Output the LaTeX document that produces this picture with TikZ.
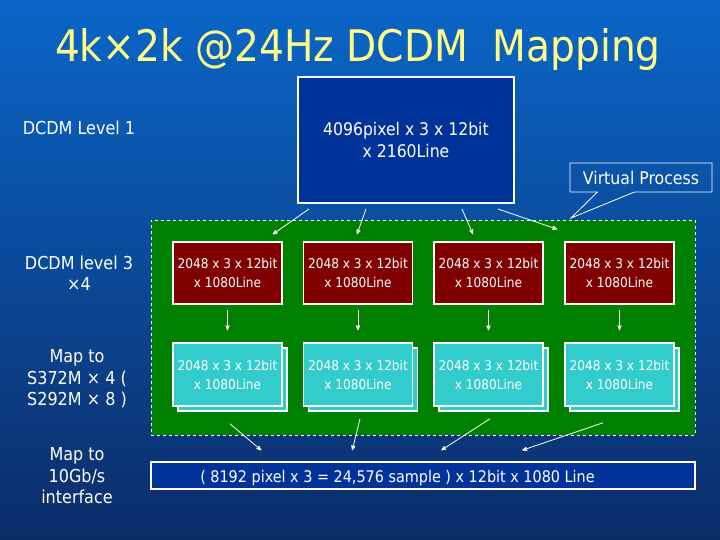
\documentclass[tikz,border=0pt]{standalone}
\usepackage{fontspec}
\setmainfont{DejaVu Sans Condensed}
\usetikzlibrary{arrows,shadows,shapes.callouts}

\definecolor{bgtop}{HTML}{0A66C8}
\definecolor{bgbot}{HTML}{0B2C68}
\definecolor{deepblue}{HTML}{003399}
\definecolor{procgreen}{HTML}{008000}
\definecolor{levelred}{HTML}{800000}
\definecolor{mapcyan}{HTML}{33CCCC}
\definecolor{titleyellow}{HTML}{FFFF88}

\begin{document}
\begin{tikzpicture}[x=1pt,y=-1pt,-,>=stealth',thick,
  side label/.style={text=white,align=center,font=\fontsize{17.8}{21.5}\selectfont},
  level box/.style={draw=white,line width=1.5pt,fill=levelred,text=white,align=center,
    minimum width=109pt,minimum height=62pt,inner sep=0pt,font=\fontsize{13.5}{19}\selectfont},
  map box/.style={draw=white,line width=1.5pt,fill=mapcyan,text=white,align=center,
    minimum width=109pt,minimum height=63pt,inner sep=0pt,font=\fontsize{13.5}{19}\selectfont,
    copy shadow={shadow xshift=5pt,shadow yshift=-5pt}},
  link/.style={every edge/.style={draw=white,line width=0.8pt,->}}]

  % background
  \shade[top color=bgtop,bottom color=bgbot,draw=none] (0,0) rectangle (720,540);

  \node[text=titleyellow,font=\fontsize{43.5}{44}\selectfont] (title) at (358,50) {4k×2k @24Hz DCDM\ \ Mapping};

  \node[side label] (l1) at (79,128) {DCDM Level 1};
  \node[side label] (l3) at (79,273) {DCDM level 3\\×4};
  \node[side label] (lmap) at (77,379) {Map to\\S372M × 4 (\\S292M × 8 )};
  \node[side label] (lif) at (77,476) {Map to\\10Gb/s\\interface};

  \node[draw=white,line width=2pt,fill=deepblue,text=white,align=center,
    minimum width=216pt,minimum height=126pt,inner sep=0pt,
    font=\fontsize{17.4}{22}\selectfont] (top) at (406,140) {4096pixel x 3 x 12bit\\x 2160Line};

  \node[draw=white,dashed,line width=0.8pt,fill=procgreen,minimum width=544pt,
    minimum height=215pt,inner sep=0pt] (virt) at (423,327.5) {};

  \node[rectangle callout,draw=white,line width=0.8pt,text=white,minimum width=142pt,
    minimum height=29pt,inner sep=0pt,callout absolute pointer={(571,218)},
    callout pointer width=37pt,font=\fontsize{17.5}{20}\selectfont] (vp) at (641,177.5) {Virtual Process};

  \node[level box] (r1) at (227.5,273) {2048 x 3 x 12bit\\x 1080Line};
  \node[level box] (r2) at (358,273) {2048 x 3 x 12bit\\x 1080Line};
  \node[level box] (r3) at (488.5,273) {2048 x 3 x 12bit\\x 1080Line};
  \node[level box] (r4) at (619.5,273) {2048 x 3 x 12bit\\x 1080Line};

  \node[map box] (c1) at (227.5,374.5) {2048 x 3 x 12bit\\x 1080Line};
  \node[map box] (c2) at (358,374.5) {2048 x 3 x 12bit\\x 1080Line};
  \node[map box] (c3) at (488.5,374.5) {2048 x 3 x 12bit\\x 1080Line};
  \node[map box] (c4) at (619.5,374.5) {2048 x 3 x 12bit\\x 1080Line};

  \node[draw=white,line width=1.5pt,fill=deepblue,text=white,minimum width=544pt,
    minimum height=27pt,inner sep=0pt,font=\fontsize{16}{20}\selectfont] (bar) at (423,475.5)
    {\raisebox{-6.5pt}[0pt][0pt]{( 8192 pixel x 3 = 24,576 sample ) x 12bit x 1080 Line}\hspace*{51pt}};

  \path[link]
    ([xshift=12pt,yshift=-5pt]top.south west) edge ([xshift=-10pt,yshift=7pt]r1.north east)
    ([xshift=69pt,yshift=-5pt]top.south west) edge ([xshift=-1pt,yshift=7pt]r2.north)
    ([xshift=165pt,yshift=-5pt]top.south west) edge ([xshift=-15.5pt,yshift=7pt]r3.north)
    ([xshift=-17pt,yshift=-5pt]top.south east) edge ([xshift=-7pt,yshift=12pt]r4.north west)
    ([yshift=-5pt]r1.south) edge ([yshift=12pt]c1.north)
    ([yshift=-5pt]r2.south) edge ([yshift=12pt]c2.north)
    ([yshift=-5pt]r3.south) edge ([yshift=12pt]c3.north)
    ([yshift=-5pt]r4.south) edge ([yshift=12pt]c4.north)
    ([xshift=2.5pt,yshift=-17pt]c1.south) edge ([xshift=111pt,yshift=11pt]bar.north west)
    ([xshift=2pt,yshift=-12pt]c2.south) edge ([xshift=202pt,yshift=11pt]bar.north west)
    ([xshift=1.5pt,yshift=-12pt]c3.south) edge ([xshift=291pt,yshift=11pt]bar.north west)
    ([xshift=-16.5pt,yshift=-16pt]c4.south) edge ([xshift=372pt,yshift=11pt]bar.north west)
    ;

\end{tikzpicture}
\end{document}
